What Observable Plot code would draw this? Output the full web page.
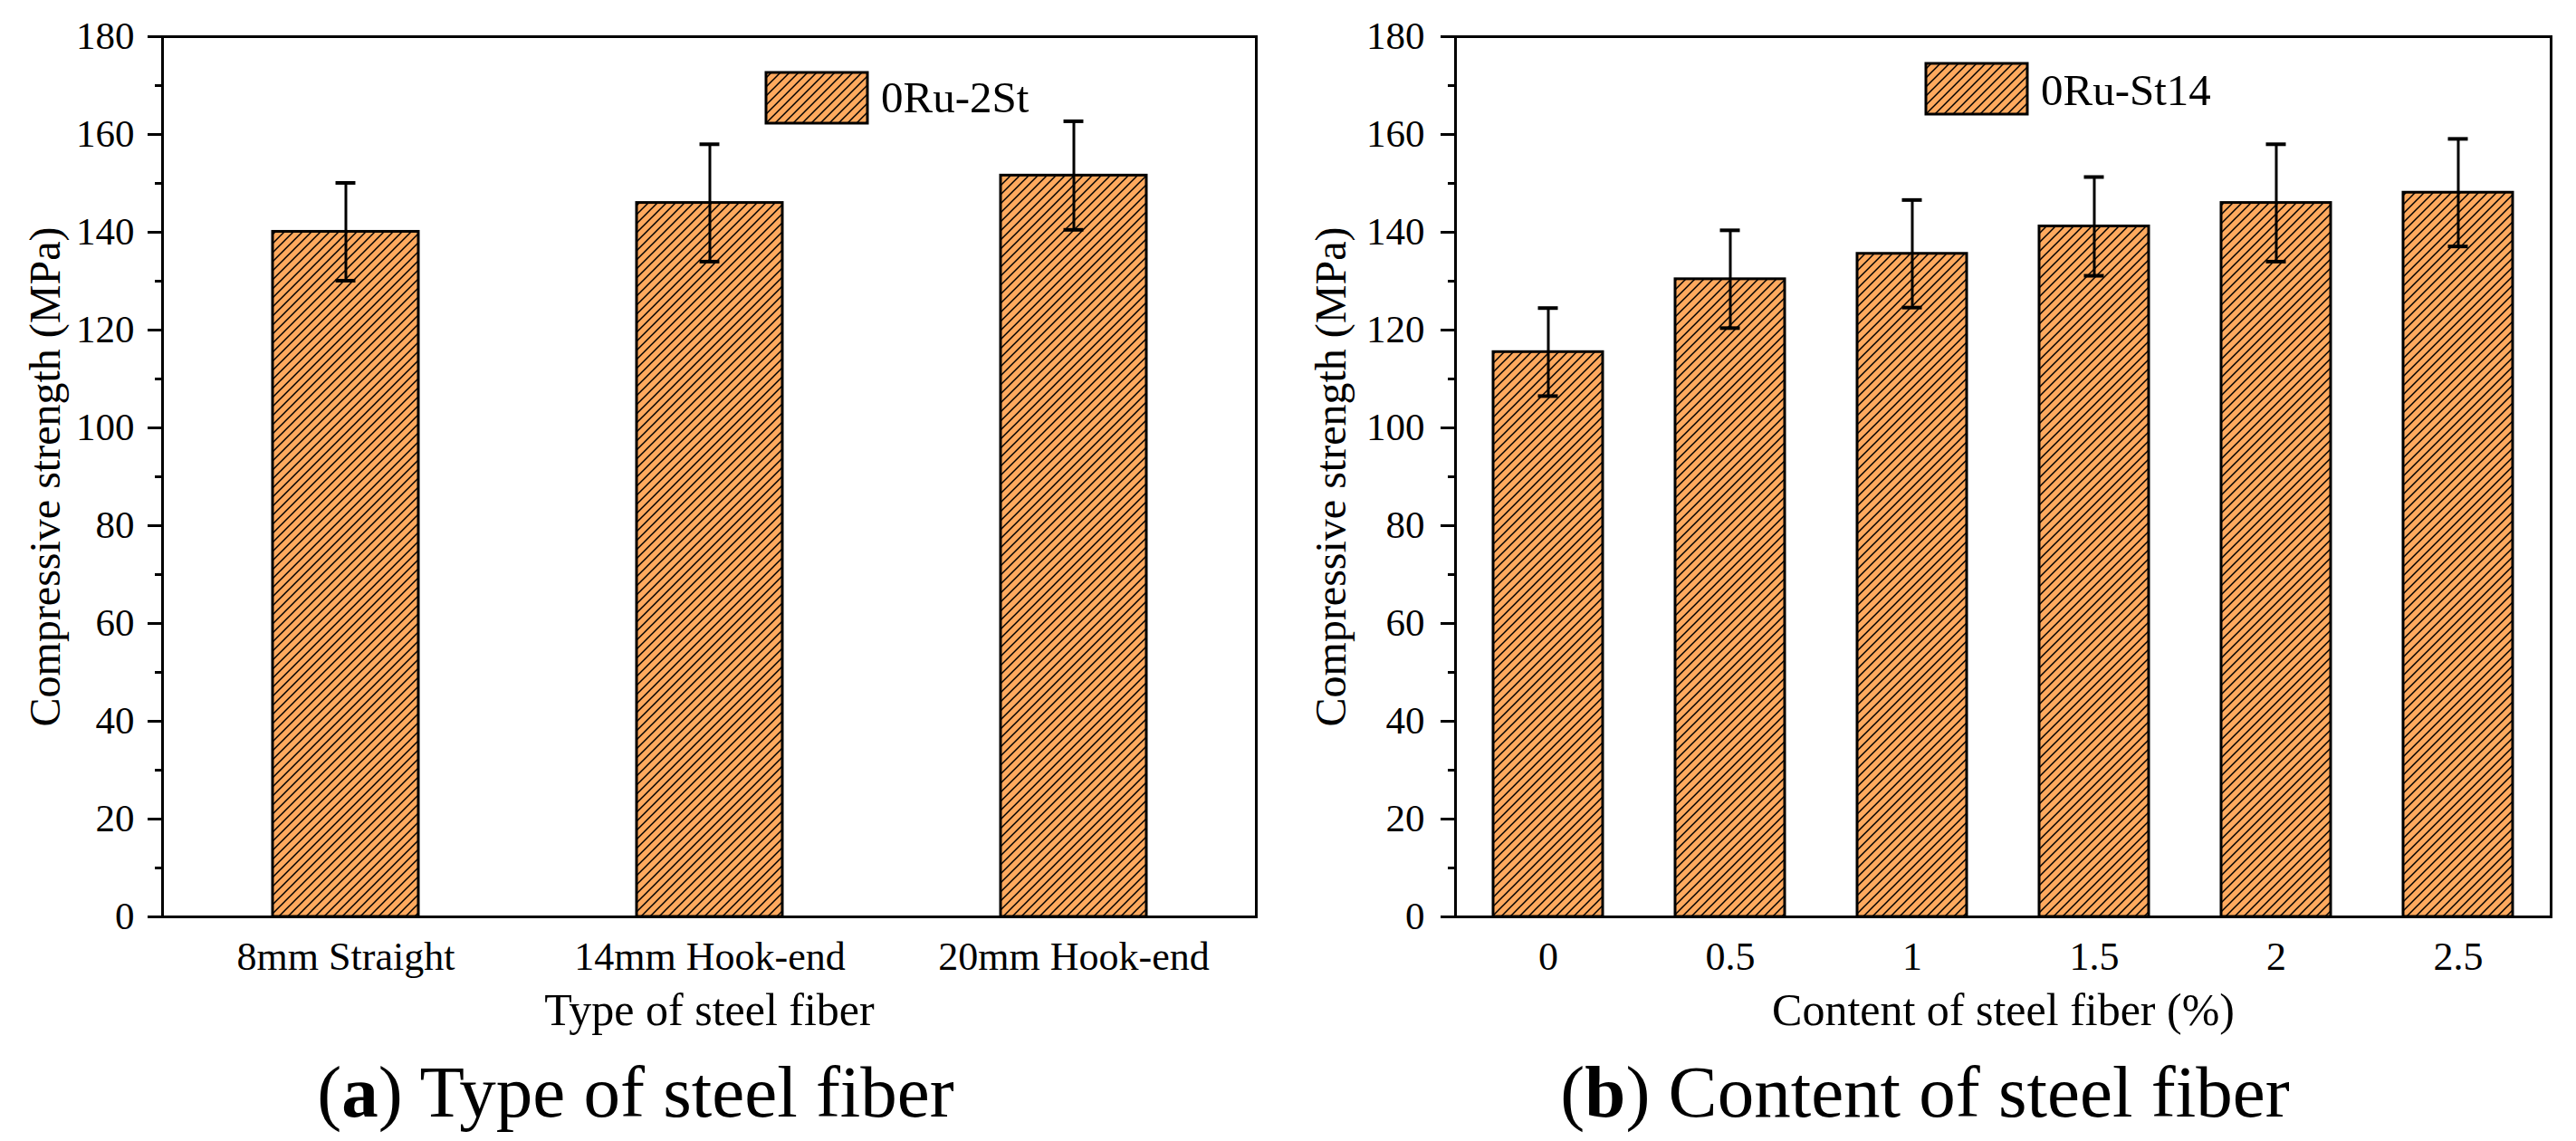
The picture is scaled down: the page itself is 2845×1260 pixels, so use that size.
<!DOCTYPE html>
<html><head><meta charset="utf-8">
<script src="https://cdn.jsdelivr.net/npm/d3@7"></script>
<script src="https://cdn.jsdelivr.net/npm/@observablehq/plot@0.6"></script>
<style>
html,body{margin:0;padding:0;background:#fff;}
#fig{position:relative;width:2845px;height:1260px;overflow:hidden;font-family:"Liberation Serif",serif;color:#000;}
.panel{position:absolute;top:0;}
.panel svg text{font-family:"Liberation Serif",serif;}
.cap{position:absolute;width:1000px;text-align:center;font-size:81px;line-height:81px;white-space:nowrap;}
.sw{position:absolute;}
.legtxt{position:absolute;font-size:49px;line-height:49px;white-space:nowrap;}
</style></head><body>
<svg width="0" height="0" style="position:absolute">
<defs><pattern id="hatch" patternUnits="userSpaceOnUse" width="10" height="10">
<rect width="10" height="10" fill="#FFA95E"/>
<path d="M-2.5,2.5L2.5,-2.5M0,10L10,0M7.5,12.5L12.5,7.5" stroke="#000" stroke-width="1.5"/>
</pattern></defs></svg>
<div id="fig"></div>
<script>
// ---- data ----
const typeCats = ["8mm Straight", "14mm Hook-end", "20mm Hook-end"];
const typeMeans = [140.1, 146.0, 151.6];
const typeErrs = [10.0, 12.0, 11.1];
const contentCats = ["0", "0.5", "1", "1.5", "2", "2.5"];
const contentMeans = [115.5, 130.4, 135.6, 141.2, 146.0, 148.1];
const contentErrs = [9.0, 10.0, 11.0, 10.1, 12.0, 11.0];
const yMajorTicks = d3.range(0, 181, 20);
const yMinorTicks = d3.range(10, 180, 20);
const yLabel = "Compressive strength (MPa)";
const xLabelA = "Type of steel fiber";
const xLabelB = "Content of steel fiber (%)";
const legendA = "0Ru-2St";
const legendB = "0Ru-St14";
const captionA = ["a", " Type of steel fiber"];
const captionB = ["b", " Content of steel fiber"];

const FONT = "Liberation Serif";
const fig = document.getElementById("fig");
const H = 1160;

function panel(cats, means, errs, o) {
  const data = cats.map((c, i) => ({cat: c, v: means[i], lo: means[i] - errs[i], hi: means[i] + errs[i]}));
  const plotW = o.width - o.marginLeft - o.marginRight;
  const step = plotW / (cats.length - o.pi + 2 * o.po);
  const bw = step * (1 - o.pi);
  const capInset = (bw - 22) / 2;
  const chart = Plot.plot({
    width: o.width,
    height: H,
    marginLeft: o.marginLeft,
    marginRight: o.marginRight,
    marginTop: 40,
    marginBottom: H - 1012,
    style: {fontFamily: FONT, background: "transparent", color: "#000"},
    x: {type: "band", domain: cats, paddingInner: o.pi, paddingOuter: o.po, align: 0.5},
    y: {domain: [0, 180]},
    marks: [
      Plot.barY(data, {x: "cat", y: "v", fill: "url(#hatch)", stroke: "#000", strokeWidth: 3}),
      Plot.ruleX(data, {x: "cat", y1: "lo", y2: "hi", stroke: "#000", strokeWidth: 3}),
      Plot.tickY(data, {x: "cat", y: "lo", stroke: "#000", strokeWidth: 4, insetLeft: capInset, insetRight: capInset}),
      Plot.tickY(data, {x: "cat", y: "hi", stroke: "#000", strokeWidth: 4, insetLeft: capInset, insetRight: capInset}),
      Plot.frame({stroke: "#000", strokeWidth: 3}),
      Plot.axisY({ticks: yMajorTicks, tickSize: 16, tickPadding: o.tickPad, strokeWidth: 3, fontSize: 43, fontFamily: FONT, label: null, tickFormat: d => String(d)}),
      Plot.axisY({ticks: yMinorTicks, tickSize: 8, strokeWidth: 3, text: null, label: null}),
      Plot.axisX({tickSize: 0, tickPadding: 27, fontSize: 44, fontFamily: FONT, label: null}),
      Plot.text([yLabel], {text: d => d, frameAnchor: "left", rotate: -90, lineAnchor: "bottom", textAnchor: "middle", dx: o.yDx, fontSize: 48, fontFamily: FONT}),
      Plot.text([o.xLabel], {text: d => d, frameAnchor: "bottom", lineAnchor: "bottom", textAnchor: "middle", dy: 119, fontSize: 50, fontFamily: FONT})
    ]
  });
  const div = document.createElement("div");
  div.className = "panel";
  div.style.left = o.left + "px";
  div.appendChild(chart);
  fig.appendChild(div);
}

panel(typeCats, typeMeans, typeErrs, {left: 0, width: 1420, marginLeft: 179, marginRight: 33, pi: 0.6, po: 0.3, tickPad: 15, yDx: 65 - 179, xLabel: xLabelA});
panel(contentCats, contentMeans, contentErrs, {left: 1420, width: 1425, marginLeft: 187, marginRight: 28, pi: 0.4, po: 0.2, tickPad: 18, yDx: 1485 - 1607, xLabel: xLabelB});

function legend(x, y, label, tx, ty) {
  const sw = document.createElementNS("http://www.w3.org/2000/svg", "svg");
  sw.setAttribute("class", "sw");
  sw.setAttribute("width", 116); sw.setAttribute("height", 60);
  sw.style.left = (x - 2) + "px"; sw.style.top = (y - 2) + "px";
  sw.innerHTML = '<rect x="2" y="2" width="112" height="56" fill="url(#hatch)" stroke="#000" stroke-width="3"/>';
  fig.appendChild(sw);
  const t = document.createElement("div");
  t.className = "legtxt";
  t.textContent = label;
  t.style.left = tx + "px"; t.style.top = (ty - 41) + "px";
  fig.appendChild(t);
}
legend(846, 80, legendA, 973, 124);
legend(2127, 70, legendB, 2254, 116);

function caption(cx, parts) {
  const c = document.createElement("div");
  c.className = "cap";
  c.style.left = (cx - 500) + "px";
  c.style.top = (1234 - 68) + "px";
  c.innerHTML = "(<b>" + parts[0] + "</b>)" + parts[1];
  fig.appendChild(c);
}
caption(702, captionA);
caption(2126, captionB);
</script>
</body></html>
